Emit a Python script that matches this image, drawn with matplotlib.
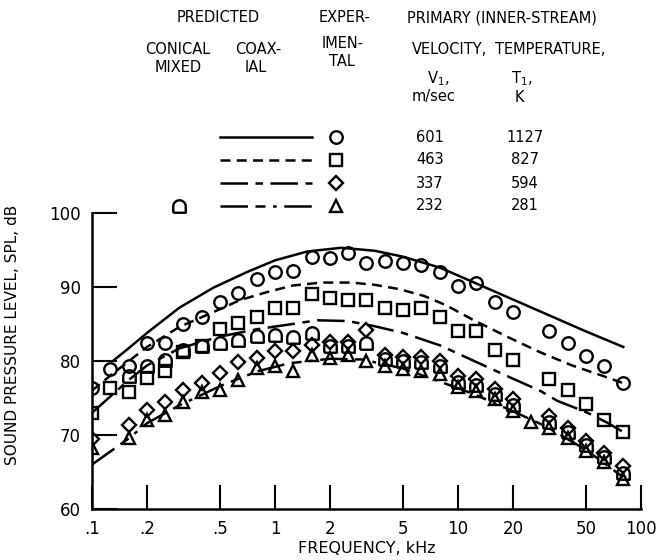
import numpy as np
import matplotlib
matplotlib.use("Agg")
import matplotlib.pyplot as plt
from matplotlib.lines import Line2D

plt.rcParams["font.family"] = ["DejaVu Sans"]

# 1/3-octave band centres, kHz
freq = [0.1, 0.125, 0.16, 0.2, 0.25, 0.315, 0.4, 0.5, 0.63, 0.8, 1, 1.25, 1.6, 2, 2.5,
        3.15, 4, 5, 6.3, 8, 10, 12.5, 16, 20, 25, 31.5, 40, 50, 63, 80]
nan = np.nan

# experimental SPL, dB
spl_601 = [76.4, 78.9, 79.3, 82.4, 82.4, 85.0, 85.9, 88.0, 89.2, 91.1, 92.0, 92.2, 94.0, 93.9, 94.6,
           93.2, 93.5, 93.2, 93.0, 92.0, 90.1, 90.5, 88.0, 86.6, nan, 84.0, 82.5, 80.7, 79.3, 77.0]
spl_463 = [73.0, 76.3, 75.8, 77.7, 78.7, 81.2, 82.0, 84.3, 85.1, 86.0, 87.2, 87.2, 89.0, 88.5, 88.2,
           88.2, 87.2, 86.9, 87.1, 85.9, 84.1, 84.1, 81.5, 80.1, nan, 77.6, 76.1, 74.2, 72.0, 70.4]
spl_337 = [69.5, nan, 71.4, 73.4, 74.5, 76.1, 77.0, 78.4, 79.8, 80.4, 81.3, 81.3, 82.2, 82.6, 82.6,
           84.2, 80.8, 80.5, 80.6, 80.0, 78.0, 77.6, 76.2, 74.8, nan, 72.6, 71.0, 69.2, 67.6, 65.8]
spl_232 = [68.3, nan, 69.6, 72.0, 72.7, 74.5, 75.8, 76.1, 77.4, 79.1, 79.3, 78.6, 80.8, 80.4, 80.8,
           80.0, 79.3, 78.9, 78.6, 78.2, 76.5, 75.9, 74.8, 73.2, 71.7, 71.0, 69.6, 67.8, 66.3, 64.0]
spl_mixed = [nan, nan, 78.0, 79.3, 80.1, 81.5, 82.0, 82.4, 82.8, 83.4, 83.5, 83.3, 83.8, 82.0, 82.0,
             82.4, 80.3, 80.0, 79.8, 79.3, 77.2, 76.8, 75.5, 74.0, nan, 71.8, 70.4, 68.6, 67.0, 64.8]

# predicted (coaxial) curves
pf_601 = [0.13, 0.16, 0.2, 0.3, 0.46, 0.7, 1.0, 1.5, 2.3, 3.5, 5, 8, 12, 20, 30, 50, 80]
pl_601 = [80.0, 81.8, 83.8, 87.2, 89.9, 92.0, 93.6, 94.8, 95.3, 94.9, 94.1, 92.6, 90.7, 88.3, 86.4, 84.0, 81.9]
pf_463 = [0.1, 0.13, 0.2, 0.3, 0.46, 0.64, 0.9, 1.25, 1.8, 2.6, 3.5, 4.8, 6.5, 8.5, 12, 18.5, 28, 42, 60, 80]
pl_463 = [76.0, 78.3, 81.9, 84.6, 86.6, 88.2, 89.3, 90.2, 90.6, 90.6, 90.3, 89.7, 88.8, 87.6, 85.6, 83.3, 81.2, 79.4, 78.1, 77.0]
pf_337 = [0.1, 0.16, 0.2, 0.3, 0.5, 0.8, 1.1, 1.7, 2.5, 3.5, 5, 8, 12, 20, 28, 35, 50, 65, 80]
pl_337 = [73.0, 77.5, 79.4, 81.7, 83.3, 84.3, 84.8, 85.5, 85.4, 84.7, 83.8, 82.1, 80.1, 77.6, 76.0, 74.6, 73.1, 71.7, 70.4]
pf_232 = [0.1, 0.16, 0.2, 0.3, 0.5, 0.8, 1.2, 2, 3, 5, 8, 12, 20, 30, 50, 80]
pl_232 = [66.0, 69.6, 71.6, 74.0, 76.6, 78.6, 79.7, 80.3, 80.2, 79.0, 77.2, 75.6, 73.2, 71.2, 68.0, 64.3]

velocity = ["601", "463", "337", "232"]
temperature = ["1127", "827", "594", "281"]
xticks = [0.1, 0.2, 0.5, 1, 2, 5, 10, 20, 50, 100]
xticklabels = [".1", ".2", ".5", "1", "2", "5", "10", "20", "50", "100"]
yticks = [60, 70, 80, 90, 100]

W, H = 657, 560
# tombstone-shaped marker (conical mixed)
t = np.linspace(0, np.pi, 14)
d_marker = [(-1, -1), (1, -1)] + [(np.cos(a), np.sin(a)) for a in t] + [(-1, -1)]

styles = [
    dict(ls="-", marker="o", ms=9),
    dict(ls=(0, (4, 2.5)), marker="s", ms=8.5),
    dict(ls=(0, (11, 3, 3, 3)), marker="D", ms=7.5),
    dict(ls=(0, (11, 3, 4, 3, 1.5, 3)), marker="^", ms=9),
]
curves = [(pf_601, pl_601), (pf_463, pl_463), (pf_337, pl_337), (pf_232, pl_232)]
points = [spl_601, spl_463, spl_337, spl_232]

fig = plt.figure(figsize=(W / 100, H / 100), dpi=100)
ax = fig.add_axes([92 / W, 1 - 509 / H, (641 - 92) / W, (509 - 213) / H])

for (cf, cl), pts, st in zip(curves, points, styles):
    ax.plot(cf, cl, color="black", lw=1.8, ls=st["ls"], dash_capstyle="butt")
    ax.plot(freq, pts, ls="none", marker=st["marker"], ms=st["ms"], mfc="none",
            mec="black", mew=1.7)
ax.plot(freq, spl_mixed, ls="none", marker=d_marker, ms=9, mfc="none", mec="black", mew=1.7)

ax.set_xscale("log")
ax.set_xlim(0.1, 100)
ax.set_ylim(60, 100)
ax.set_xticks(xticks)
ax.set_xticklabels(xticklabels)
ax.set_yticks(yticks)
ax.minorticks_off()
ax.tick_params(axis="x", direction="in", length=17, width=1.5, labelsize=12, pad=8)
ax.tick_params(axis="y", direction="in", length=18, width=1.5, labelsize=12, pad=8)
for s in ["top", "right"]:
    ax.spines[s].set_visible(False)
for s in ["left", "bottom"]:
    ax.spines[s].set_linewidth(1.8)
ax.set_xlabel("FREQUENCY, kHz", fontsize=11.5, labelpad=2)
ax.set_ylabel("SOUND PRESSURE LEVEL, SPL, dB", fontsize=11)
ax.yaxis.set_label_coords((20 - 92) / (641 - 92), (509 - 335) / (509 - 213))


def px(x, y):
    return x / W, 1 - y / H


def label(x, y, s, size=10.5, **kw):
    fig.text(*px(x, y), s, ha="center", va="center", fontsize=size, **kw)


label(218, 18, "PREDICTED")
label(345, 18, "EXPER-")
label(502, 18, "PRIMARY (INNER-STREAM)")
label(178, 49, "CONICAL")
label(178, 68, "MIXED")
label(258, 49, "COAX-")
label(256, 68, "IAL")
label(343, 43, "IMEN-")
label(342, 62, "TAL")
label(450, 49, "VELOCITY,")
label(550, 49, "TEMPERATURE,")
label(438, 79, r"V$_1$,")
label(434, 97, "m/sec")
label(522, 79, r"T$_1$,")
label(519, 97, "K")

rows = [137, 160, 183, 206]
for y, st, v, tk in zip(rows, styles, velocity, temperature):
    fx0, fy = px(220, y)
    fx1, _ = px(312, y)
    fig.add_artist(Line2D([fx0, fx1], [fy, fy], transform=fig.transFigure, color="black",
                          lw=1.8, ls=st["ls"], dash_capstyle="butt"))
    mx, my = px(336, y)
    fig.add_artist(Line2D([mx], [my], transform=fig.transFigure, ls="none", marker=st["marker"],
                          ms=st["ms"], mfc="none", mec="black", mew=1.7))
    label(430, y, v)
    label(525, y, tk)
mx, my = px(179, 206)
fig.add_artist(Line2D([mx], [my], transform=fig.transFigure, ls="none", marker=d_marker,
                      ms=9, mfc="none", mec="black", mew=1.7))

fig.savefig("out.png", dpi=100)
